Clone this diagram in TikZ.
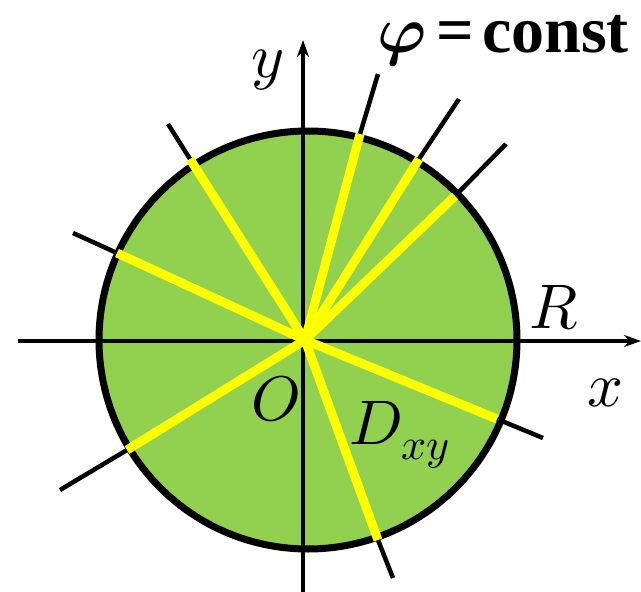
\documentclass[tikz,border=0pt]{standalone}
\usepackage{fontspec}
\usepackage{unicode-math}
\setmainfont{Liberation Serif}
\setmathfont{Latin Modern Math}
\usetikzlibrary{arrows.meta}
\definecolor{disk}{HTML}{92D050}
\definecolor{ray}{HTML}{FFFF00}
\tikzset{
  axis/.style={line width=4pt, -{Stealth[length=17pt,width=12pt]}},
  yray/.style={ray, line width=9pt},
  bray/.style={black, line width=4.5pt},
  lab/.style={font=\fontsize{63}{66}\selectfont, inner sep=0pt},
}
\begin{document}
\begin{tikzpicture}[x=1pt,y=-1pt]
\useasboundingbox (0,0) rectangle (641,592);
% disk
\coordinate (C) at (308,340);
\fill[disk] (C) circle[radius=209];
% axes
\coordinate (O) at (305,340);
\coordinate (xl) at (18,341);
\coordinate (xr) at (641,341);
\coordinate (yb) at (303,592);
\coordinate (yt) at (303,40);
\draw[axis] (xl) -- (xr);
\draw[axis] (yb) -- (yt);
\draw[line width=7pt] (C) circle[radius=209];
% rays: yellow inside, black outside
\foreach \n/\ix/\iy/\ex/\ey in {
  1/190/159/168/124,
  2/117/253/73/233,
  3/360/134/378/74,
  4/419/159/459/99,
  5/455/196/506/144,
  6/497/419/543/438,
  7/378/540/393/578,
  8/127/450/60/490}{
  \coordinate (i\n) at (\ix,\iy);
  \coordinate (e\n) at (\ex,\ey);
  \draw[bray] (i\n) -- (e\n);
  \draw[yray] (O) -- (i\n);
}
% labels
\node[lab, anchor=base east, text height=44pt, font=\fontsize{66}{70}\selectfont\bfseries] (phi) at (629,52) {$\symbfit{\varphi}$\hspace{10pt}=\hspace{8pt}const};
\node[lab] (ylab) at (268,70) {$y$};
\node[lab] (Rlab) at (554,308) {$R$};
\node[lab] (xlab) at (606,393) {$x$};
\node[lab] (Olab) at (276,399) {$O$};
\node[lab, anchor=west] (Dlab) at (349,435) {$D_{xy}$};
\end{tikzpicture}
\end{document}
